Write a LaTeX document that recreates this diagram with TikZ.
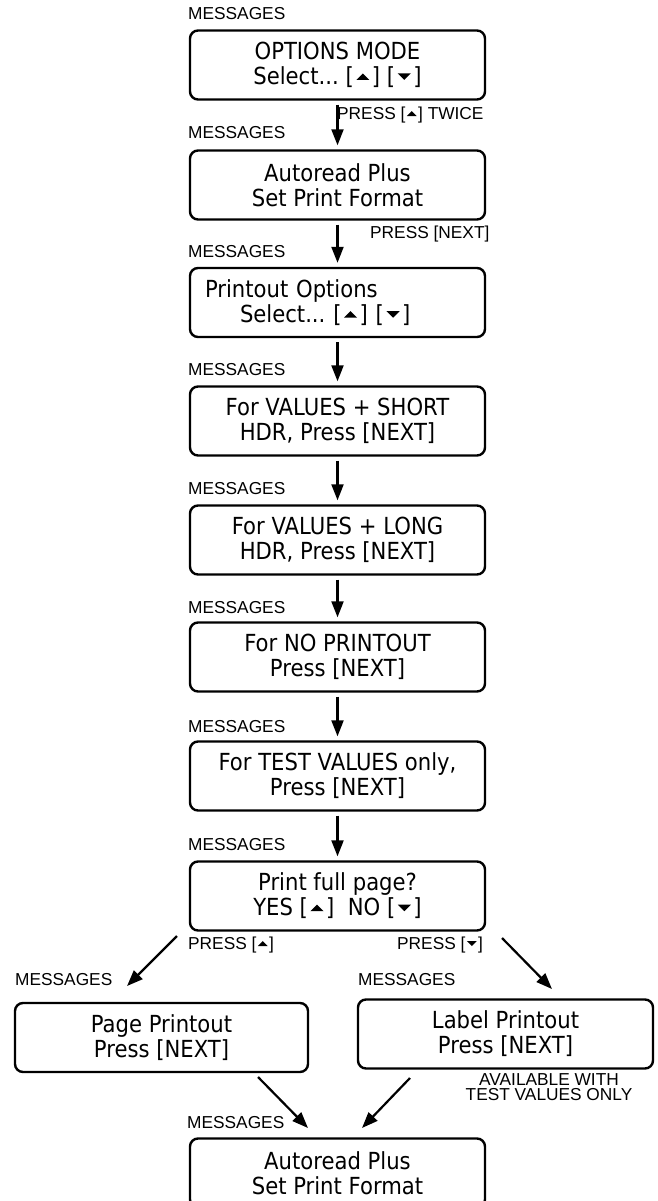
\documentclass[tikz,border=0pt]{standalone}
\usepackage{fontspec}
\setmainfont[FakeStretch=0.9]{DejaVu Sans}
\newfontfamily\lblfamily{Liberation Sans}
\usetikzlibrary{arrows.meta}
\newcommand\upT{\tikz[baseline=0pt,sharp corners,x=1em,y=1em]\fill (0,0.2)--(0.56,0.2)--(0.28,0.48)--cycle;}
\newcommand\dnT{\tikz[baseline=0pt,sharp corners,x=1em,y=1em]\fill (0,0.48)--(0.56,0.48)--(0.28,0.2)--cycle;}
\newcommand\bU{[\kern2.5pt\upT\kern2.5pt]}
\newcommand\bD{[\kern2.5pt\dnT\kern2.5pt]}
\newcommand\lU{[\kern1.5pt\upT\kern1.5pt]}
\newcommand\lD{[\kern1.5pt\dnT\kern1.5pt]}
\begin{document}
\begin{tikzpicture}[x=1pt,y=-1pt,
  box/.style={draw,line width=2.4pt,rounded corners=8pt,minimum width=295pt,
    minimum height=69pt,inner sep=0pt,align=center,
    font=\fontsize{23.5}{25}\selectfont},
  lbl/.style={inner sep=0pt,font=\lblfamily\fontsize{17.3}{15}\selectfont},
  arr/.style={line width=2.2pt,-{Triangle[length=16pt,width=12pt]}},
  vlink/.style={arr,shorten <=4pt,shorten >=4pt}
]
\path[use as bounding box,clip] (0,0) rectangle (658,1201);
% boxes
\node[box] (b1) at (337.5,65) {OPTIONS MODE\\Select...\ \bU\ \bD};
\node[box] (b2) at (337.5,185) {Autoread Plus\\Set Print Format};
\node[box,text width=265pt,inner xsep=15pt,align=left] (b3) at (337.5,302.5)
  {Printout Options\\\hspace*{35pt}Select...\ \bU\ \bD};
\node[box] (b4) at (337.5,421) {For VALUES + SHORT\\HDR, Press [NEXT]};
\node[box] (b5) at (337.5,540) {For VALUES + LONG\\HDR, Press [NEXT]};
\node[box] (b6) at (337.5,657) {For NO PRINTOUT\\Press [NEXT]};
\node[box] (b7) at (337.5,776) {For TEST VALUES only,\\Press [NEXT]};
\node[box] (b8) at (337.5,896) {Print full page?\\YES \bU\ \ NO \bD};
\node[box,minimum width=293pt] (pp) at (161.5,1037.5) {Page Printout\\Press [NEXT]};
\node[box] (lp) at (505.5,1034) {Label Printout\\Press [NEXT]};
\node[box] (fin) at (337.5,1173) {Autoread Plus\\Set Print Format};
% MESSAGES labels
\node[lbl,anchor=west] (m1) at (188,14) {MESSAGES};
\node[lbl,anchor=west] (m2) at (188,133) {MESSAGES};
\node[lbl,anchor=west] (m3) at (188,252) {MESSAGES};
\node[lbl,anchor=west] (m4) at (188,370) {MESSAGES};
\node[lbl,anchor=west] (m5) at (188,489) {MESSAGES};
\node[lbl,anchor=west] (m6) at (188,608) {MESSAGES};
\node[lbl,anchor=west] (m7) at (188,727) {MESSAGES};
\node[lbl,anchor=west] (m8) at (188,845) {MESSAGES};
\node[lbl,anchor=west] (ml) at (15,980) {MESSAGES};
\node[lbl,anchor=west] (mr) at (358,980) {MESSAGES};
\node[lbl,anchor=west] (mf) at (187,1123) {MESSAGES};
% press labels
\node[lbl,anchor=west] (p1) at (337,115) {PRESS \lU\ TWICE};
\node[lbl,anchor=west] (p2) at (370,234) {PRESS [NEXT]};
\node[lbl,anchor=west] (p3) at (188,945) {PRESS \lU};
\node[lbl,anchor=west] (p4) at (397,945) {PRESS \lD};
\node[lbl,align=center] (av) at (549,1087) {AVAILABLE WITH\\TEST VALUES ONLY};
% vertical connectors
\draw[vlink] (b1) -- (b2);
\draw[vlink] (b2) -- (b3);
\draw[vlink] (b3) -- (b4);
\draw[vlink] (b4) -- (b5);
\draw[vlink] (b5) -- (b6);
\draw[vlink] (b6) -- (b7);
\draw[vlink] (b7) -- (b8);
% diagonal connectors
\coordinate (dl1) at (177,936); \coordinate (dl2) at (127,986);
\coordinate (dr1) at (502,938); \coordinate (dr2) at (552,989);
\coordinate (ul1) at (258,1077); \coordinate (ul2) at (308,1128);
\coordinate (ur1) at (410,1078); \coordinate (ur2) at (362,1128);
\draw[arr] (dl1) -- (dl2);
\draw[arr] (dr1) -- (dr2);
\draw[arr] (ul1) -- (ul2);
\draw[arr] (ur1) -- (ur2);
\end{tikzpicture}
\end{document}
